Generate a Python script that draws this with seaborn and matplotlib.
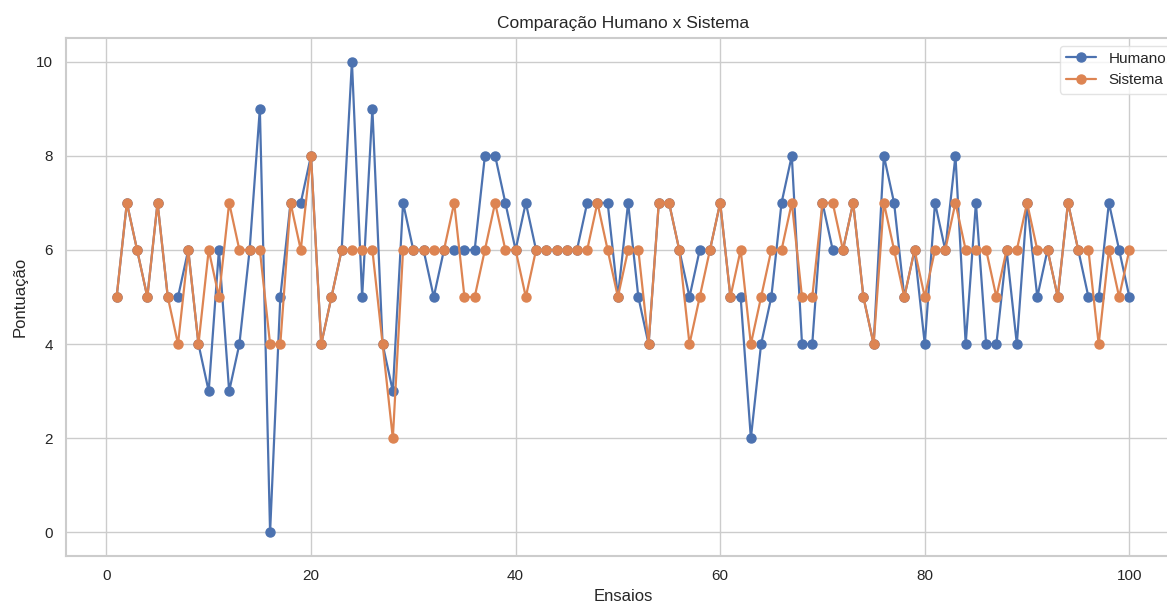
import matplotlib
matplotlib.use("Agg")
import matplotlib.pyplot as plt
import seaborn as sns
import pandas as pd

# Trial numbers and the scores given by each evaluator
ensaios = list(range(1, 101))
humano = [5, 7, 6, 5, 7, 5, 5, 6, 4, 3,
          6, 3, 4, 6, 9, 0, 5, 7, 7, 8,
          4, 5, 6, 10, 5, 9, 4, 3, 7, 6,
          6, 5, 6, 6, 6, 6, 8, 8, 7, 6,
          7, 6, 6, 6, 6, 6, 7, 7, 7, 5,
          7, 5, 4, 7, 7, 6, 5, 6, 6, 7,
          5, 5, 2, 4, 5, 7, 8, 4, 4, 7,
          6, 6, 7, 5, 4, 8, 7, 5, 6, 4,
          7, 6, 8, 4, 7, 4, 4, 6, 4, 7,
          5, 6, 5, 7, 6, 5, 5, 7, 6, 5]
sistema = [5, 7, 6, 5, 7, 5, 4, 6, 4, 6,
           5, 7, 6, 6, 6, 4, 4, 7, 6, 8,
           4, 5, 6, 6, 6, 6, 4, 2, 6, 6,
           6, 6, 6, 7, 5, 5, 6, 7, 6, 6,
           5, 6, 6, 6, 6, 6, 6, 7, 6, 5,
           6, 6, 4, 7, 7, 6, 4, 5, 6, 7,
           5, 6, 4, 5, 6, 6, 7, 5, 5, 7,
           7, 6, 7, 5, 4, 7, 6, 5, 6, 5,
           6, 6, 7, 6, 6, 6, 5, 6, 6, 7,
           6, 6, 5, 7, 6, 6, 4, 6, 5, 6]

df = pd.DataFrame({"Ensaios": ensaios, "Humano": humano, "Sistema": sistema})

sns.set_theme(style="whitegrid")
plt.rcParams["font.family"] = ["Liberation Sans", "DejaVu Sans"]

fig = plt.figure(figsize=(11.67, 6.04), dpi=100)
W, H = 1167, 604
ax = fig.add_axes([66 / W, (H - 556) / H, (1180 - 66) / W, (556 - 38) / H])

pal = sns.color_palette("deep")
for col, c in (("Humano", pal[0]), ("Sistema", pal[1])):
    sns.lineplot(data=df, x="Ensaios", y=col, ax=ax, color=c, label=col,
                 marker="o", markersize=6.5, markeredgecolor=c,
                 markeredgewidth=1, linewidth=1.6)

ax.set_xlim(-3.95, 104.95)
ax.set_ylim(-0.5, 10.5)
ax.set_title("Comparação Humano x Sistema", fontsize=12.5, pad=7)
ax.set_xlabel("Ensaios", fontsize=12, labelpad=4)
ax.set_ylabel("Pontuação", fontsize=12, labelpad=6)
ax.tick_params(labelsize=11)
for s in ax.spines.values():
    s.set_color("#cccccc")
    s.set_linewidth(1.5)

leg = ax.legend(loc="upper right", fontsize=11, frameon=True)
leg.get_frame().set_edgecolor("#dddddd")

fig.savefig("out.png", dpi=100)
